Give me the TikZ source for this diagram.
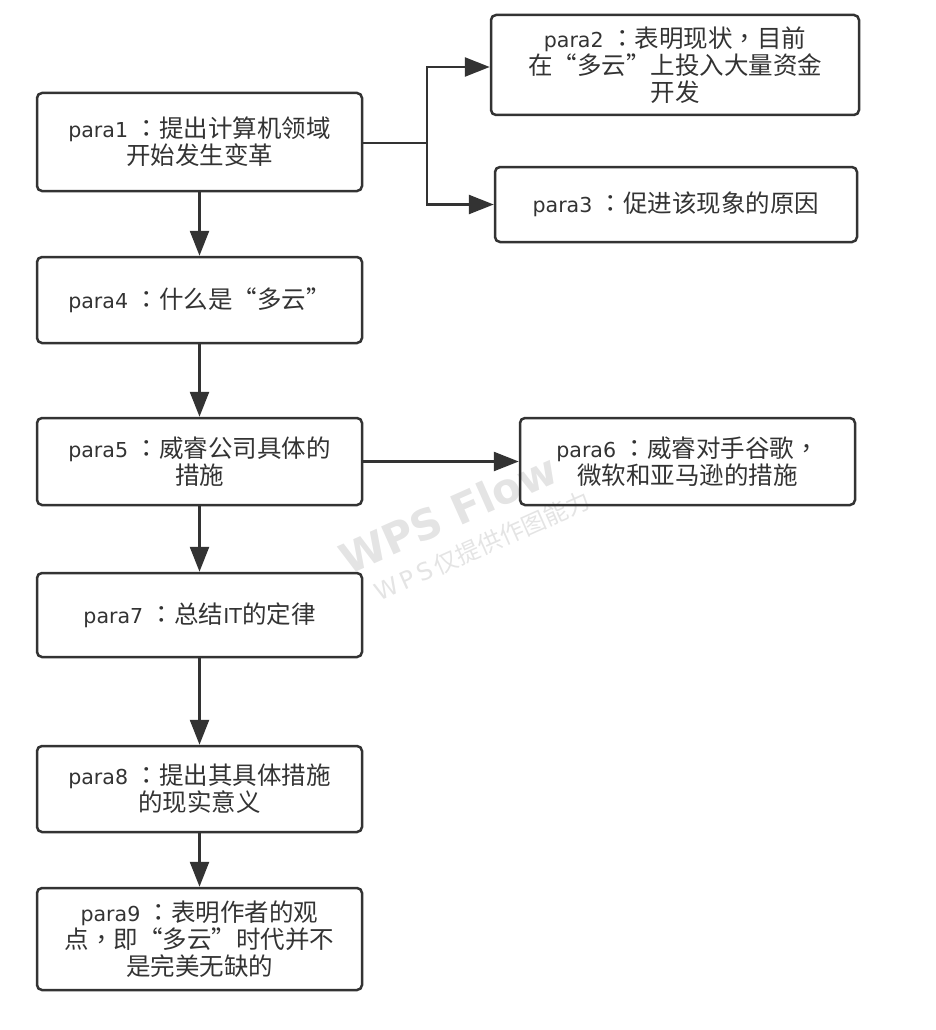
\documentclass[tikz,border=0pt]{standalone}
\usepackage{fontspec}
\setmainfont{Noto Sans CJK SC}
\newfontfamily\lat{DejaVu Sans}[Scale=0.84]
\newfontfamily\latb{DejaVu Sans}
\newfontfamily\pun{Noto Sans CJK TC}
\usetikzlibrary{arrows.meta}
\definecolor{ink}{HTML}{333333}
\definecolor{wm}{HTML}{E4E4E4}
\newcommand{\pcolon}{{\pun ：}}
\newcommand{\pcomma}{{\pun ，}}
\begin{document}
\begin{tikzpicture}[x=1pt,y=-1pt,
  box/.style={draw=ink, line width=2.5pt, rounded corners=5pt, text=ink, align=center,
    font=\fontsize{24.5}{27}\selectfont, inner sep=0pt, minimum width=325pt},
  arr/.style={draw=ink, line width=2.5pt, -{Triangle[length=25pt,width=19pt]}},
  wmark/.style={text=wm, rotate=24, inner sep=0pt}]
\useasboundingbox (0,0) rectangle (936,1030);
% watermark
\node[wmark, font=\latb\bfseries\fontsize{42}{42}\selectfont] (wm1) at (448,514) {WPS Flow};
\node[wmark, font=\fontsize{24}{24}\selectfont] (wm2) at (482,546) {{\latb W\,P\,S\,}仅提供作图能力};
% boxes
\node[box, minimum height=98pt] (p1) at (199.5,142) {{\lat para1 }\pcolon 提出计算机领域\\开始发生变革};
\node[box, minimum width=368pt, minimum height=100pt] (p2) at (675,65) {{\lat para2 }\pcolon 表明现状\pcomma 目前\\在“多云”上投入大量资金\\开发};
\node[box, minimum width=362pt, minimum height=75pt] (p3) at (676,204.5) {{\lat para3 }\pcolon 促进该现象的原因};
\node[box, minimum height=86pt] (p4) at (199.5,300) {{\lat para4 }\pcolon 什么是“多云”};
\node[box, minimum height=87pt] (p5) at (199.5,461.5) {{\lat para5 }\pcolon 威睿公司具体的\\措施};
\node[box, minimum width=335pt, minimum height=87pt] (p6) at (687.5,461.5) {{\lat para6 }\pcolon 威睿对手谷歌\pcomma\\微软和亚马逊的措施};
\node[box, minimum height=84pt] (p7) at (199.5,615) {{\lat para7 }\pcolon 总结{\lat IT}的定律};
\node[box, minimum height=86pt] (p8) at (199.5,789) {{\lat para8 }\pcolon 提出其具体措施\\的现实意义};
\node[box, minimum height=102pt] (p9) at (199.5,939) {{\lat para9 }\pcolon 表明作者的观\\点\pcomma 即“多云”时代并不\\是完美无缺的};
% connectors
\coordinate (j) at (427,143);
\draw[arr] (p1.east |- j) -- (j) |- (p2.west |- 0,67);
\draw[arr] (j) |- (p3.west);
\draw[arr] (p1) -- (p4);
\draw[arr] (p4) -- (p5);
\draw[arr] (p5) -- (p6);
\draw[arr] (p5) -- (p7);
\draw[arr] (p7) -- (p8);
\draw[arr] (p8) -- (p9);
\end{tikzpicture}
\end{document}
